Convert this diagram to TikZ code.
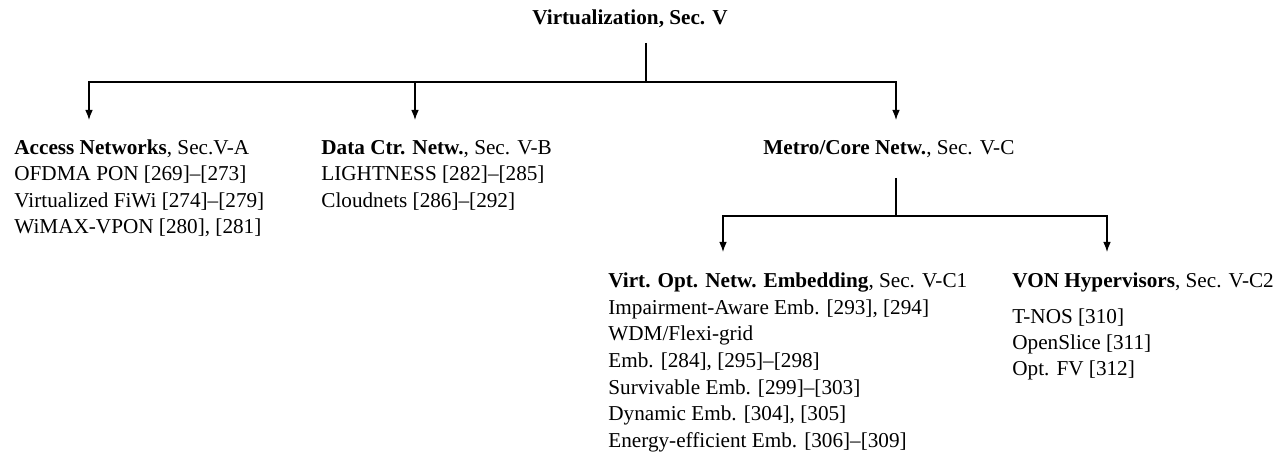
\documentclass[tikz,border=0pt]{standalone}
\usepackage{fontspec}
\setmainfont{Liberation Serif}
\usetikzlibrary{arrows.meta}
\begin{document}
\begin{tikzpicture}[x=0.5pt,y=-0.5pt,
  lbl/.style={anchor=base west, inner sep=0pt, font=\fontsize{10.6pt}{13pt}\selectfont},
  rootlbl/.style={anchor=base, inner sep=0pt, font=\fontsize{10.6pt}{13pt}\selectfont\bfseries},
  conn/.style={line width=0.6pt, draw=black},
  arr/.style={conn, -{Latex[length=5pt,width=3.8pt]}}]
\useasboundingbox (0,0) rectangle (1286,454);
% root
\node[rootlbl] (root) at (630,25) {Virtualization, Sec. V};
% level 1
\node[lbl] (acc) at (14,155) {\textbf{Access Networks}, Sec.V-A};
\node[lbl] (acc1) at (14,181) {OFDMA PON [269]--[273]};
\node[lbl] (acc2) at (14,207.5) {Virtualized FiWi [274]--[279]};
\node[lbl] (acc3) at (14,234) {WiMAX-VPON [280], [281]};
\node[lbl] (dc) at (321,155) {\textbf{Data Ctr. Netw.}, Sec. V-B};
\node[lbl] (dc1) at (321,181) {LIGHTNESS [282]--[285]};
\node[lbl] (dc2) at (321,207.5) {Cloudnets [286]--[292]};
\node[lbl] (metro) at (763,155) {\textbf{Metro/Core Netw.}, Sec. V-C};
% level 2
\node[lbl] (von) at (608,288) {\textbf{Virt. Opt. Netw. Embedding}, Sec. V-C1};
\node[lbl] (von1) at (608,314.5) {Impairment-Aware Emb. [293], [294]};
\node[lbl] (von2) at (608,341) {WDM/Flexi-grid};
\node[lbl] (von3) at (608,367.5) {Emb. [284], [295]--[298]};
\node[lbl] (von4) at (608,394) {Survivable Emb. [299]--[303]};
\node[lbl] (von5) at (608,420.5) {Dynamic Emb. [304], [305]};
\node[lbl] (von6) at (608,447) {Energy-efficient Emb. [306]--[309]};
\node[lbl] (hyp) at (1012,288) {\textbf{VON Hypervisors}, Sec. V-C2};
\node[lbl] (hyp1) at (1012,324) {T-NOS [310]};
\node[lbl] (hyp2) at (1012,350) {OpenSlice [311]};
\node[lbl] (hyp3) at (1012,376) {Opt. FV [312]};
% connector coordinates
\coordinate (rootBot) at (646,43);
\coordinate (j1) at (646,82);
\coordinate (accTip) at (89,120);
\coordinate (dcTip) at (415,120);
\coordinate (metroTip) at (896,120);
\coordinate (metroBot) at (896,178);
\coordinate (j2) at (896,216);
\coordinate (vonTip) at (723,252);
\coordinate (hypTip) at (1107,252);
% connectors
\draw[conn] (rootBot) -- (j1);
\draw[arr] (j1) -| (accTip);
\draw[arr] (j1) -| (dcTip);
\draw[arr] (j1) -| (metroTip);
\draw[conn] (metroBot) -- (j2);
\draw[arr] (j2) -| (vonTip);
\draw[arr] (j2) -| (hypTip);
\end{tikzpicture}
\end{document}
